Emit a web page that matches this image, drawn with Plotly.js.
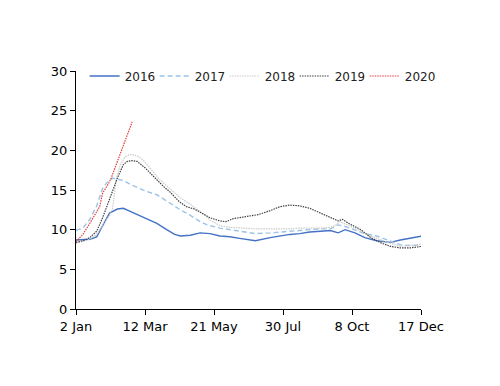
<!DOCTYPE html>
<html>
<head>
<meta charset="utf-8">
<script src="https://cdn.plot.ly/plotly-3.0.1.min.js"></script>
<style>html,body{margin:0;padding:0;background:#fff;}#chart{width:500px;height:386px;}</style>
</head>
<body>
<div id="chart"></div>
<script>
// Day of year (0 = 2 Jan) and values per series
var days2016 = [0,14,21,27,34,42,48,55,62,72,82,92,100,106,116,126,136,146,156,166,182,197,207,217,227,237,248,258,266,273,283,293,305,319,329,339,351];
var vals2016 = [8.7,8.8,9.1,10.5,12.1,12.6,12.7,12.3,11.9,11.4,10.8,10.0,9.4,9.2,9.3,9.6,9.5,9.2,9.1,8.9,8.6,9.0,9.2,9.4,9.5,9.7,9.8,9.9,9.6,10.0,9.6,9.0,8.6,8.4,8.7,8.9,9.2];

var days2017 = [0,7,14,21,27,31,37,42,48,55,62,72,82,92,100,106,116,126,133,146,156,166,182,197,207,217,227,237,248,258,266,273,283,293,305,319,329,339,351];
var vals2017 = [9.9,10.2,11.3,13.0,15.2,15.9,16.5,16.4,16.2,15.7,15.3,14.8,14.4,13.6,12.9,12.5,11.8,11.0,10.6,10.2,10.0,9.8,9.5,9.6,9.7,9.8,9.9,10.0,10.1,10.1,10.6,10.4,10.0,9.5,9.2,8.6,8.1,8.0,8.1];

var days2018 = [0,7,14,21,27,34,37,41,45,50,55,62,68,75,85,95,106,116,126,131,136,146,156,166,182,197,207,217,227,237,248,258,263,268,275,283,293,305,319,329,339,351];
var vals2018 = [8.3,8.5,8.8,9.4,10.5,11.8,12.6,16.5,18.2,19.2,19.5,19.3,18.8,17.8,16.3,15.2,14.0,13.2,12.3,11.8,11.2,10.5,10.3,10.2,10.1,10.1,10.1,10.1,10.2,10.2,10.2,10.3,10.5,11.0,10.6,10.1,9.6,8.9,8.3,7.9,8.0,8.2];

var days2019 = [0,7,14,21,27,34,37,42,48,52,57,62,70,80,90,95,105,112,120,126,136,146,152,160,172,185,197,207,217,227,237,248,258,266,270,278,289,299,310,319,329,339,351];
var vals2019 = [8.4,8.6,9.0,9.8,11.5,13.8,14.8,16.5,18.2,18.6,18.7,18.6,17.8,16.5,15.3,14.8,13.5,12.9,12.6,12.2,11.5,11.1,11.0,11.4,11.6,11.9,12.4,12.9,13.1,13.0,12.7,12.1,11.6,11.1,11.3,10.7,10.0,9.0,8.3,7.9,7.7,7.7,7.9];

var days2020 = [0,7,14,21,24,27,33,36,42,48,52,57];
var vals2020 = [8.5,9.4,10.8,12.2,12.9,14.6,15.8,16.6,18.6,20.6,21.9,23.6];

var xTickVals = [0,70,140,210,280,350];
var xTickText = ['2 Jan','12 Mar','21 May','30 Jul','8 Oct','17 Dec'];
var yTickVals = [0,5,10,15,20,25,30];

var traces = [
  {x: days2016, y: vals2016, name: '2016', mode: 'lines', line: {color: '#4472C4', width: 1.4}},
  {x: days2017, y: vals2017, name: '2017', mode: 'lines', line: {color: '#9DC3E6', width: 1.4, dash: '5px,3px'}},
  {x: days2018, y: vals2018, name: '2018', mode: 'lines', line: {color: '#C9C9C9', width: 1.2, dash: '1.5px,1px'}},
  {x: days2019, y: vals2019, name: '2019', mode: 'lines', line: {color: '#404040', width: 1.2, dash: '1.5px,1px'}},
  {x: days2020, y: vals2020, name: '2020', mode: 'lines', legend: 'legend2', line: {color: '#E0403A', width: 1.2, dash: '1.5px,1px'}}
];

var legendCommon = {orientation: 'h', y: 1.04, xanchor: 'left', yanchor: 'top',
  font: {size: 12, color: '#222'}, itemwidth: 30, entrywidth: 25, entrywidthmode: 'pixels',
  bgcolor: 'rgba(0,0,0,0)', traceorder: 'normal'};

var layout = {
  width: 500, height: 386,
  margin: {l: 76, r: 79, t: 71, b: 77},
  paper_bgcolor: '#fff', plot_bgcolor: '#fff',
  font: {family: 'DejaVu Sans, sans-serif', size: 13, color: '#000'},
  showlegend: true,
  legend: Object.assign({}, legendCommon, {x: 0.025}),
  legend2: Object.assign({}, legendCommon, {x: 0.837, entrywidth: 32}),
  xaxis: {range: [0, 350], tickvals: xTickVals, ticktext: xTickText, showgrid: false, zeroline: false,
          showline: true, linecolor: '#000', linewidth: 1, ticks: 'outside', ticklen: 5, tickcolor: '#000',
          fixedrange: true},
  yaxis: {range: [0, 30], tickvals: yTickVals, showgrid: false, zeroline: false,
          showline: true, linecolor: '#000', linewidth: 1, ticks: 'outside', ticklen: 5, tickcolor: '#000',
          fixedrange: true}
};

Plotly.newPlot('chart', traces, layout, {displayModeBar: false, staticPlot: true});
</script>
</body>
</html>
